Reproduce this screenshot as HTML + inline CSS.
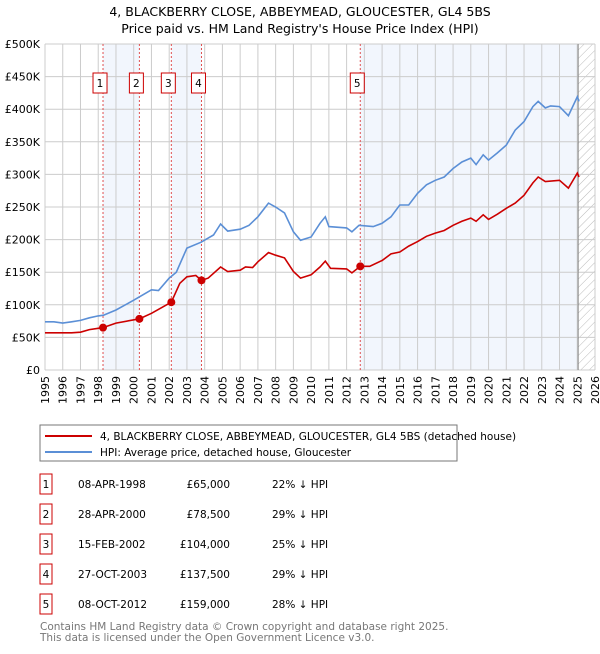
<!DOCTYPE html>
<html><head><meta charset="utf-8"><style>
body{margin:0;background:#fff;font-family:"DejaVu Sans","Liberation Sans",sans-serif;}
svg text{font-family:"DejaVu Sans","Liberation Sans",sans-serif;}
</style></head><body>
<svg id="c" width="600" height="650" xmlns="http://www.w3.org/2000/svg">
<text x="300" y="16" text-anchor="middle" font-size="12.5">4, BLACKBERRY CLOSE, ABBEYMEAD, GLOUCESTER, GL4 5BS</text>
<text x="300" y="33" text-anchor="middle" font-size="12.5">Price paid vs. HM Land Registry's House Price Index (HPI)</text>
<g id="plot"></g>
<rect x="40" y="425" width="417" height="36" fill="#fff" stroke="#777"/>
<line x1="45" y1="436" x2="92" y2="436" stroke="#cc0000" stroke-width="2"/>
<text x="100" y="440" font-size="10.5">4, BLACKBERRY CLOSE, ABBEYMEAD, GLOUCESTER, GL4 5BS (detached house)</text>
<line x1="45" y1="452" x2="92" y2="452" stroke="#5b8fd6" stroke-width="2"/>
<text x="100" y="456" font-size="10.5">HPI: Average price, detached house, Gloucester</text>
<g id="table" font-size="10.5"></g>
<text x="40" y="630" font-size="10.5" fill="#777">Contains HM Land Registry data © Crown copyright and database right 2025.</text>
<text x="40" y="641" font-size="10.5" fill="#777">This data is licensed under the Open Government Licence v3.0.</text>
</svg>
<script>
const yTicks=[0,50000,100000,150000,200000,250000,300000,350000,400000,450000,500000];
const yTickLabels=["£0","£50K","£100K","£150K","£200K","£250K","£300K","£350K","£400K","£450K","£500K"];
const years=[1995,1996,1997,1998,1999,2000,2001,2002,2003,2004,2005,2006,2007,2008,2009,2010,2011,2012,2013,2014,2015,2016,2017,2018,2019,2020,2021,2022,2023,2024,2025,2026];
const hpiX=[1995,1995.5,1996,1996.5,1997,1997.5,1998,1998.3,1999,2000,2001,2001.4,2002,2002.4,2003,2003.8,2004.5,2004.9,2005.3,2006,2006.5,2007,2007.6,2008,2008.5,2009,2009.4,2010,2010.5,2010.8,2011,2012,2012.3,2012.7,2013.5,2014,2014.5,2015,2015.5,2016,2016.5,2017,2017.5,2018,2018.5,2019,2019.3,2019.7,2020,2020.5,2021,2021.5,2022,2022.5,2022.8,2023.2,2023.5,2024,2024.5,2025,2025.1];
const hpiY=[74000,74000,72000,74000,76000,80000,83000,84000,92000,107000,123000,122000,141000,150000,187000,196000,207000,224000,213000,216000,222000,235000,256000,250000,241000,212000,199000,204000,225000,235000,220000,218000,212000,222000,220000,225000,235000,253000,253000,271000,284000,291000,296000,309000,319000,325000,315000,330000,322000,333000,345000,368000,381000,404000,412000,402000,405000,404000,390000,419000,412000];
const ppX=[1995,1996,1996.5,1997,1997.5,1998,1998.27,1999,2000.32,2001,2002.12,2002.6,2003,2003.5,2003.82,2004.2,2004.9,2005.3,2006,2006.3,2006.7,2007,2007.6,2008,2008.5,2009,2009.4,2010,2010.5,2010.8,2011.1,2012,2012.3,2012.77,2013.3,2014,2014.5,2015,2015.5,2016,2016.5,2017,2017.5,2018,2018.5,2019,2019.3,2019.7,2020,2020.5,2021,2021.5,2022,2022.5,2022.8,2023.2,2024,2024.5,2025,2025.1];
const ppY=[57000,57000,57000,58000,62000,64000,65000,72000,78500,87000,104000,133000,143000,145000,137500,141000,158000,151000,153000,158000,157000,166000,180000,176000,172000,151000,141000,146000,158000,167000,156000,155000,149000,159000,159000,168000,178000,181000,190000,197000,205000,210000,214000,222000,228000,233000,228000,238000,231000,239000,248000,256000,268000,287000,296000,289000,291000,279000,302000,296000];
const saleNums=["1","2","3","4","5"];
const saleX=[1998.27,2000.32,2002.12,2003.82,2012.77];
const saleY=[65000,78500,104000,137500,159000];
const saleDates=["08-APR-1998","28-APR-2000","15-FEB-2002","27-OCT-2003","08-OCT-2012"];
const salePrices=["£65,000","£78,500","£104,000","£137,500","£159,000"];
const saleHpi=["22% ↓ HPI","29% ↓ HPI","25% ↓ HPI","29% ↓ HPI","28% ↓ HPI"];
const dataEnd=2025.05;

const L=45,R=595,T=44,B=370;
const sx=v=>L+(v-1995)/31*(R-L);
const sy=v=>B-v/500000*(B-T);
const NS="http://www.w3.org/2000/svg";
const plot=document.getElementById('plot');
function mk(tag,attrs,parent){const e=document.createElementNS(NS,tag);for(const k in attrs)e.setAttribute(k,attrs[k]);(parent||plot).appendChild(e);return e;}
const defs=mk('defs',{});
const pat=mk('pattern',{id:'hatch',width:6,height:6,patternUnits:'userSpaceOnUse',patternTransform:'rotate(45)'},defs);
mk('line',{x1:0,y1:0,x2:0,y2:6,stroke:'#bbb','stroke-width':1},pat);
const shade=[[0,1],[2,3]];
shade.forEach((p,i)=>{const r=mk('rect',{x:sx(saleX[p[0]]),y:T,width:sx(saleX[p[1]])-sx(saleX[p[0]]),height:B-T,fill:'#eef3fc',opacity:0.75});
});
let r5=mk('rect',{x:sx(saleX[4]),y:T,width:sx(dataEnd)-sx(saleX[4]),height:B-T,fill:'#eef3fc',opacity:0.75});

let hr=mk('rect',{x:sx(dataEnd),y:T,width:R-sx(dataEnd),height:B-T,fill:'url(#hatch)'});

years.forEach(y=>{const g=mk('line',{x1:sx(y),x2:sx(y),y1:T,y2:B,stroke:'#ccc','stroke-width':1});

const t=mk('text',{x:0,y:0,'font-size':11,'text-anchor':'end',transform:`translate(${sx(y)+4},${B+6}) rotate(-90)`});t.textContent=y;
});
yTicks.forEach((v,i)=>{const g=mk('line',{x1:L,x2:R,y1:sy(v),y2:sy(v),stroke:'#ccc','stroke-width':1});

const t=mk('text',{x:L-5,y:sy(v)+4,'font-size':11,'text-anchor':'end'});t.textContent=yTickLabels[i];
});
let el=mk('line',{x1:sx(dataEnd),x2:sx(dataEnd),y1:T,y2:B,stroke:'#888','stroke-width':1});

saleX.forEach((x,i)=>{const l=mk('line',{x1:sx(x),x2:sx(x),y1:T,y2:B,stroke:'#e05050','stroke-width':1,'stroke-dasharray':'2,2'});

const bx=mk('rect',{x:sx(x)-10,y:73,width:14,height:20,fill:'#fff',stroke:'#cc0000'});

const t=mk('text',{x:sx(x)-3,y:87,'font-size':10.5,'text-anchor':'middle'});t.textContent=saleNums[i];
});
function path(xs,ys){return xs.map((x,i)=>(i?'L':'M')+sx(x).toFixed(1)+','+sy(ys[i]).toFixed(1)).join('');}
let hp=mk('path',{d:path(hpiX,hpiY),fill:'none',stroke:'#5b8fd6','stroke-width':1.6});

let pp=mk('path',{d:path(ppX,ppY),fill:'none',stroke:'#cc0000','stroke-width':1.6});

saleX.forEach((x,i)=>{const c=mk('circle',{cx:sx(x),cy:sy(saleY[i]),r:4,fill:'#cc0000'});
});
const tb=document.getElementById('table');
saleNums.forEach((n,i)=>{const y=483+i*30;
const b=mk('rect',{x:40,y:y-9,width:12,height:20,fill:'#fff',stroke:'#cc0000'},tb);

const cells=[[46,n,'middle'],[78,saleDates[i],'start'],[230,salePrices[i],'end'],[272,saleHpi[i],'start']];
const names=['table-num','table-date','table-price','table-hpi-diff'];
cells.forEach((c,j)=>{const t=mk('text',{x:c[0],y:y+5,'text-anchor':c[2]},tb);t.textContent=c[1];
});});
</script>
</body></html>
